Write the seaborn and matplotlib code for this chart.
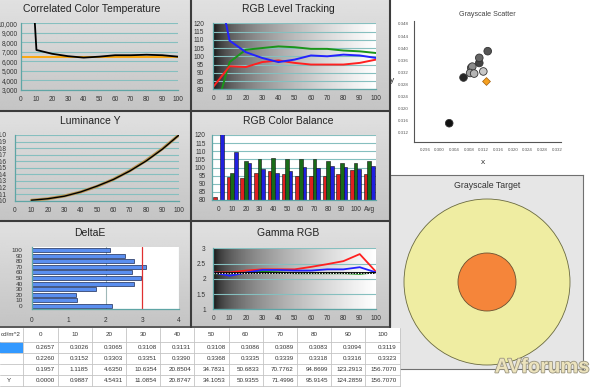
import numpy as np
import pandas as pd
import matplotlib
matplotlib.use("Agg")
import matplotlib.pyplot as plt
import seaborn as sns
from matplotlib.patches import Rectangle, Circle
import matplotlib.patheffects as pe

# ---------------- data ----------------
levels = [0, 10, 20, 30, 40, 50, 60, 70, 80, 90, 100]
level_labels = ["0", "10", "20", "30", "40", "50", "60", "70", "80", "90", "100"]

cct_measured = [35000, 7200, 6800, 6550, 6400, 6500, 6650, 6650, 6700, 6650, 6500]
cct_target = [6500, 6500, 6500, 6500, 6500, 6500, 6500, 6500, 6500, 6500, 6500]

track_red = [81.5, 94, 93.5, 96.5, 97.5, 96, 95, 95, 95, 96, 98]
track_green = [62, 96.5, 104, 105, 106, 105.5, 104.5, 104.5, 103.5, 103, 102]
track_blue = [157, 109.5, 102.5, 99, 96.5, 98, 100.5, 100, 101, 100.5, 99]

lum_levels = [10, 20, 30, 40, 50, 60, 70, 80, 90, 100]
lum_measured = [0.007, 0.030, 0.068, 0.133, 0.222, 0.323, 0.452, 0.605, 0.787, 1.0]
lum_target = [0.006, 0.029, 0.071, 0.133, 0.218, 0.325, 0.456, 0.612, 0.793, 1.0]

balance_cats = ["0", "10", "20", "30", "40", "50", "60", "70", "80", "90", "100", "Avg"]
balance_red = [82, 94, 93.5, 96.5, 98, 96, 95, 95, 95, 96, 98.5, 96]
balance_green = [62, 96.5, 104, 105, 106, 105.5, 105, 105, 104, 103, 102.5, 104]
balance_blue = [157, 109.5, 102.5, 99, 96.5, 98, 100.5, 100, 101, 100.5, 99, 101]

deltae_labels = ["100", "90", "80", "70", "60", "50", "40", "30", "20", "10", "0"]
deltae_values = [2.12, 2.53, 2.78, 3.09, 2.73, 2.96, 2.78, 1.73, 1.19, 1.23, 2.17]

gamma_red = [2.21, 2.21, 2.27, 2.31, 2.31, 2.31, 2.39, 2.48, 2.58, 2.81, 2.23]
gamma_green = [2.18, 2.18, 2.20, 2.23, 2.21, 2.18, 2.18, 2.18, 2.18, 2.16, 2.21]
gamma_blue = [2.21, 2.10, 2.20, 2.29, 2.29, 2.27, 2.27, 2.31, 2.31, 2.38, 2.21]
gamma_target = [2.2, 2.2, 2.2, 2.2, 2.2, 2.2, 2.2, 2.2, 2.2, 2.2, 2.2]

scatter_levels = ["10", "20", "30", "40", "50", "60", "70", "80", "90", "100"]
scatter_x = [0.3026, 0.3065, 0.3108, 0.3131, 0.3108, 0.3086, 0.3089, 0.3083, 0.3094, 0.3119]
scatter_y = [0.3152, 0.3303, 0.3351, 0.3390, 0.3368, 0.3335, 0.3339, 0.3318, 0.3316, 0.3323]
scatter_target_x = [0.3127]
scatter_target_y = [0.3290]

table_header = ["0", "10", "20", "30", "40", "50", "60", "70", "80", "90", "100"]
table_row_labels = ["", "", "", "Y"]
table_x = [0.2657, 0.3026, 0.3065, 0.3108, 0.3131, 0.3108, 0.3086, 0.3089, 0.3083, 0.3094, 0.3119]
table_y = [0.2260, 0.3152, 0.3303, 0.3351, 0.3390, 0.3368, 0.3335, 0.3339, 0.3318, 0.3316, 0.3323]
table_Y = [0.1957, 1.1185, 4.6350, 10.6354, 20.8504, 34.7831, 50.6833, 70.7762, 94.8699, 123.2913, 156.7070]
table_Ytarget = [0.0000, 0.9887, 4.5431, 11.0854, 20.8747, 34.1053, 50.9355, 71.4996, 95.9145, 124.2859, 156.7070]

# ---------------- style ----------------
sns.set_theme(style="white")
plt.rcParams['font.family'] = ['Liberation Sans', 'DejaVu Sans']

W, H = 600, 387
fig = plt.figure(figsize=(6, 3.87), dpi=100)
fig.patch.set_facecolor('white')

TEAL = '#5fa5a5'
GRID = '#86bfbf'
TICKFS = 4.7
TITLEFS = 7.5


def rect(x0, y0, x1, y1):
    return [x0 / W, 1 - y1 / H, (x1 - x0) / W, (y1 - y0) / H]


def style_axes(ax, xlim, ylim, xticks, yticks, ypad=4, xpad=2.5, grid=True):
    ax.set_xlim(xlim)
    ax.set_ylim(ylim)
    ax.set_xticks(xticks)
    ax.set_yticks(yticks)
    ax.set_xlabel('')
    ax.set_ylabel('')
    for s in ['top', 'right']:
        ax.spines[s].set_visible(False)
    for s in ['left', 'bottom']:
        ax.spines[s].set_color(TEAL)
        ax.spines[s].set_linewidth(0.9)
    ax.tick_params(direction='inout', length=3.5, width=0.7, color=TEAL,
                   labelsize=TICKFS, labelcolor='#333333')
    ax.tick_params(axis='y', pad=ypad)
    ax.tick_params(axis='x', pad=xpad)
    ax.grid(False)
    if grid:
        ax.yaxis.grid(True, color=GRID, linewidth=0.8)
        ax.set_axisbelow(True)


# background panels
bg = fig.add_axes([0, 0, 1, 1])
bg.axis('off')
grad = np.linspace(0.88, 0.77, 64).reshape(-1, 1)
panels = [(0, 0, 190, 110), (191, 0, 389, 110), (0, 111, 190, 220),
          (191, 111, 389, 220), (0, 221, 190, 326), (191, 221, 389, 326)]
for (x0, y0, x1, y1) in panels:
    bg.imshow(grad, cmap='gray', vmin=0, vmax=1, extent=[x0, x1, y1, y0],
              aspect='auto', interpolation='bilinear')
bg.set_xlim(0, W)
bg.set_ylim(H, 0)

# panel titles
titles = [("Correlated Color Temperature", 92, 8.5), ("RGB Level Tracking", 288, 8.5),
          ("Luminance Y", 90, 121), ("RGB Color Balance", 288, 121),
          ("DeltaE", 90, 233), ("Gamma RGB", 288, 233.5)]
for t, x, y in titles:
    bg.text(x, y, t, ha='center', va='center', fontsize=TITLEFS, color='#222222')

gray_ramp = (np.linspace(0, 1, 256) ** 0.45).reshape(1, -1)

# ---- CCT ----
ax = fig.add_axes(rect(20.7, 23.3, 178, 90))
ax.patch.set_alpha(0)
sns.lineplot(x=levels, y=cct_target, ax=ax, color='#ffa500', linewidth=1.3)
sns.lineplot(x=levels, y=cct_measured, ax=ax, color='black', linewidth=1.3)
style_axes(ax, (0, 100), (3000, 10000), levels, list(range(3000, 10001, 1000)), ypad=0.3)
ax.set_yticklabels([f"{v:,}" for v in range(3000, 10001, 1000)])

# ---- RGB Level Tracking ----
ax = fig.add_axes(rect(213.3, 23.3, 376, 89.3))
ax.imshow(gray_ramp, cmap='gray', vmin=0, vmax=1, extent=[0, 100, 80, 120],
          aspect='auto', zorder=0)
sns.lineplot(x=levels, y=track_green, ax=ax, color='#1a951a', linewidth=1.4)
sns.lineplot(x=levels, y=track_red, ax=ax, color='#ff2020', linewidth=1.4)
sns.lineplot(x=levels, y=track_blue, ax=ax, color='#2222ff', linewidth=1.4)
style_axes(ax, (0, 100), (80, 120), levels, list(range(80, 121, 5)), ypad=4.7)
ax.yaxis.grid(True, color=GRID, linewidth=0.8, zorder=1)

# ---- Luminance ----
ax = fig.add_axes(rect(15, 135, 179, 200.7))
ax.patch.set_alpha(0)
sns.lineplot(x=lum_levels, y=lum_target, ax=ax, color='#b89550', linewidth=2.2)
sns.lineplot(x=lum_levels, y=lum_measured, ax=ax, color='black', linewidth=1.0)
style_axes(ax, (0, 100), (0, 1.0), levels, [i / 10 for i in range(11)], ypad=4)
ax.set_yticklabels([f"{i / 10:.1f}" for i in range(11)])

# ---- RGB Color Balance ----
ax = fig.add_axes(rect(211.7, 135, 376, 200))
ax.set_facecolor('white')
bal = pd.DataFrame({
    'cat': balance_cats * 3,
    'channel': ['R'] * 12 + ['G'] * 12 + ['B'] * 12,
    'value': balance_red + balance_green + balance_blue,
})
sns.barplot(data=bal, x='cat', y='value', hue='channel', order=balance_cats,
            hue_order=['R', 'G', 'B'],
            palette={'R': '#ff0000', 'G': '#0a7a0a', 'B': '#0000ff'},
            width=0.8, edgecolor='#111111', linewidth=0.4, legend=False, ax=ax)
style_axes(ax, (-0.5, 11.5), (80, 120), list(range(12)), list(range(80, 121, 5)), ypad=2.5)
ax.set_xticklabels(balance_cats)
ax.tick_params(axis='x', length=0, pad=4)

# ---- DeltaE ----
ax = fig.add_axes(rect(32, 247.3, 179, 308.7))
ax.set_facecolor('white')
sns.barplot(x=deltae_values, y=deltae_labels, order=deltae_labels, orient='h',
            color='#5b8ff0', saturation=1, edgecolor='#1c2c55', linewidth=0.5,
            width=0.72, ax=ax)
style_axes(ax, (0, 4), (10.5, -0.5), [0, 1, 2, 3, 4], list(range(11)), ypad=5, xpad=4, grid=False)
ax.set_yticklabels(deltae_labels)
ax.axvline(2, color='#9fb8b8', linewidth=0.8, zorder=0)
ax.axvline(4, color='#9fb8b8', linewidth=0.8, zorder=0)
ax.axvline(3, color='#e03030', linewidth=0.9)
ax.tick_params(axis='y', labelsize=4.6)

# ---- Gamma RGB ----
ax = fig.add_axes(rect(213.3, 248.3, 376, 309.3))
ax.imshow(gray_ramp, cmap='gray', vmin=0, vmax=1, extent=[0, 100, 1, 3],
          aspect='auto', zorder=0)
sns.lineplot(x=levels, y=gamma_green, ax=ax, color='#1a951a', linewidth=1.3)
sns.lineplot(x=levels, y=gamma_red, ax=ax, color='#ff2020', linewidth=1.3)
sns.lineplot(x=levels, y=gamma_blue, ax=ax, color='#2222ff', linewidth=1.3)
sns.lineplot(x=levels, y=gamma_target, ax=ax, color='black', linewidth=1.3)
sns.lineplot(x=levels, y=gamma_target, ax=ax, color='white', linewidth=0.8, linestyle=(0, (1, 1.5)))
style_axes(ax, (0, 100), (1, 3), levels, [1, 1.5, 2, 2.5, 3], ypad=3.6)
ax.set_yticklabels(["1", "1.5", "2", "2.5", "3"])
ax.yaxis.grid(True, color=GRID, linewidth=0.8, zorder=1)

# ---- Grayscale Scatter ----
ax = fig.add_axes(rect(414, 20.9, 560.7, 142))
ax.patch.set_alpha(0)
gray_cols = ['#111111', '#262626', '#444444', '#555555', '#666666',
             '#7a7a7a', '#8c8c8c', '#9e9e9e', '#b4b4b4', '#c8c8c8']
sns.scatterplot(x=scatter_x, y=scatter_y, hue=scatter_levels,
                palette=dict(zip(scatter_levels, gray_cols)), s=30,
                edgecolor='#333333', linewidth=0.6, legend=False, ax=ax, zorder=3)
sns.scatterplot(x=scatter_target_x, y=scatter_target_y, marker='D', color='#f5a020',
                s=16, edgecolor='#a06010', linewidth=0.5, ax=ax, zorder=4)
ax.set_xlim(0.293, 0.333)
ax.set_ylim(0.309, 0.349)
xt = [0.296 + 0.004 * i for i in range(10)]
yt = [0.312 + 0.004 * i for i in range(10)]
ax.set_xticks(xt)
ax.set_yticks(yt)
ax.set_xticklabels([f"{v:.3f}" for v in xt])
ax.set_yticklabels([f"{v:.3f}" for v in yt])
for s in ['top', 'right']:
    ax.spines[s].set_visible(False)
for s in ['left', 'bottom']:
    ax.spines[s].set_color('#555555')
    ax.spines[s].set_linewidth(0.8)
ax.tick_params(direction='inout', length=4, width=0.6, color='#555555',
               labelsize=3.2, labelcolor='#555555', pad=2)
ax.set_xlabel('')
ax.set_ylabel('')
ax.grid(False)
bg.text(487, 14.5, "Grayscale Scatter", ha='center', va='center', fontsize=5.1, color='#444444')
bg.text(483, 163, "x", ha='center', va='center', fontsize=6, color='#333333')
bg.text(392.5, 80, "y", ha='center', va='center', fontsize=6, color='#333333')

# ---- Grayscale Target ----
ax = fig.add_axes(rect(390, 175, 583, 369))
ax.set_xlim(390, 583)
ax.set_ylim(369, 175)
ax.set_facecolor('#e6e6e6')
for s in ax.spines.values():
    s.set_color('#707070')
    s.set_linewidth(0.8)
ax.set_xticks([])
ax.set_yticks([])
ax.add_patch(Circle((487, 282), 83, facecolor='#efeda2', edgecolor='#6a6a40', linewidth=0.6))
ax.add_patch(Circle((487, 282), 29, facecolor='#f5853a', edgecolor='#6a5030', linewidth=0.6))
ax.text(487, 185, "Grayscale Target", ha='center', va='center', fontsize=6.3, color='#333333')

# ---- overlay: separators, table, watermark ----
ov = fig.add_axes([0, 0, 1, 1], zorder=10)
ov.axis('off')
ov.set_xlim(0, W)
ov.set_ylim(H, 0)
SEP = '#3c3c3c'
ov.plot([190.5, 190.5], [0, 327], color=SEP, lw=1.5)
ov.plot([389.5, 389.5], [0, 327], color=SEP, lw=1.5)
ov.plot([0, 390], [110.5, 110.5], color=SEP, lw=1.5)
ov.plot([0, 390], [220.5, 220.5], color=SEP, lw=1.5)
ov.plot([0, 390], [326.8, 326.8], color=SEP, lw=1.2)

col0 = 23.3
cw = 34.2
row_tops = [328, 342, 353, 364, 375]
tab_right = col0 + cw * 11
ov.add_patch(Rectangle((0, 327.5), tab_right, H - 327.5, facecolor='white', edgecolor='none'))
ov.add_patch(Rectangle((0, 342), col0, 11, facecolor='#3399ff', edgecolor='none'))
LINE = '#c4c4c4'
for yv in [342, 353, 364, 375, 386]:
    ov.plot([0, tab_right], [yv, yv], color=LINE, lw=0.6)
for k in range(12):
    xv = col0 + cw * k
    ov.plot([xv, xv], [328, H], color=LINE, lw=0.6)
TFS = 4.5
ov.text(21, 335, "cd/m^2", ha='right', va='center', fontsize=TFS, color='#333333')
for k, h in enumerate(table_header):
    ov.text(col0 + cw * k + cw / 2, 335, h, ha='center', va='center', fontsize=TFS, color='#333333')
rows = [table_x, table_y, table_Y, table_Ytarget]
for r, vals in enumerate(rows):
    yc = row_tops[r + 1] + 5.5
    ov.text(11, yc, table_row_labels[r], ha='right', va='center', fontsize=TFS, color='#333333')
    for k, v in enumerate(vals):
        ov.text(col0 + cw * (k + 1) - 3, yc, f"{v:.4f}", ha='right', va='center',
                fontsize=TFS, color='#333333')

ov.text(542, 367, "AVforums", ha='center', va='center', fontsize=14.5, fontweight='bold',
        color='#ece3bd', path_effects=[pe.withStroke(linewidth=1.2, foreground='#9a9580')])

fig.savefig('out.png', dpi=100, facecolor='white')
